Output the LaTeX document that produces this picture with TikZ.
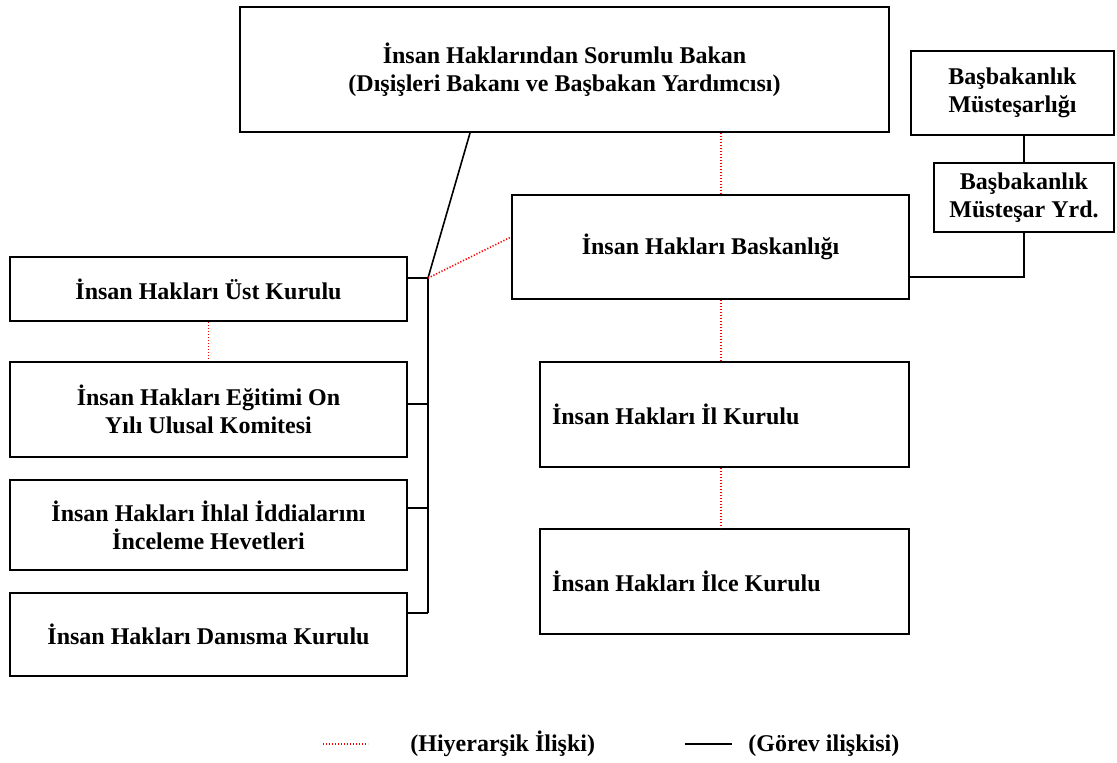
\documentclass[tikz,border=0pt]{standalone}
\usepackage{fontspec}
\setmainfont{Liberation Serif}
\newcommand{\kutuyazi}{\bfseries\fontsize{12}{14}\selectfont}
\begin{document}
\begin{tikzpicture}[x=0.5pt, y=-0.5pt,
	kutu/.style={draw, line width=1pt, inner sep=0pt, align=center, font=\kutuyazi},
	gorev/.style={line width=0.8pt},
	hiyerarsi/.style={red, line width=0.8pt, dash pattern=on 0.6pt off 0.9pt},
	aciklama/.style={anchor=base west, inner sep=0pt, font=\kutuyazi}]
	\useasboundingbox (0,0) rectangle (1117,762);
	% bakan ve basbakanlik
	\node[kutu, minimum width=324.5pt, minimum height=62.5pt] (bakan) at (564.5,69.5) {İnsan Haklarından Sorumlu Bakan\\(Dışişleri Bakanı ve Başbakan Yardımcısı)};
	\node[kutu, minimum width=101.5pt, minimum height=42pt] (mustesar) at (1012.5,93) {Başbakanlık\\Müsteşarlığı};
	\node[kutu, minimum width=90pt, minimum height=34.5pt] (yrd) at (1024,197.5) {Başbakanlık\\Müsteşar Yrd.};
	% baskanlik, il, ilce
	\node[kutu, minimum width=198.5pt, minimum height=52pt] (baskan) at (710.5,247) {İnsan Hakları Baskanlığı};
	\node[kutu, minimum width=184.5pt, minimum height=52.5pt, text width=172.5pt, align=flush left] (il) at (724.5,414.5) {İnsan Hakları İl Kurulu};
	\node[kutu, minimum width=184.5pt, minimum height=52.5pt, text width=172.5pt, align=flush left] (ilce) at (724.5,581.5) {İnsan Hakları İlce Kurulu};
	% kurullar
	\node[kutu, minimum width=198.5pt, minimum height=32pt] (ust) at (208.5,289) {İnsan Hakları Üst Kurulu};
	\node[kutu, minimum width=198.5pt, minimum height=47.5pt] (egitim) at (208.5,409.5) {İnsan Hakları Eğitimi On\\Yılı Ulusal Komitesi};
	\node[kutu, minimum width=198.5pt, minimum height=45pt] (ihlal) at (208.5,525) {İnsan Hakları İhlal İddialarını\\İnceleme Hevetleri};
	\node[kutu, minimum width=198.5pt, minimum height=41.5pt] (danisma) at (208.5,634.5) {İnsan Hakları Danısma Kurulu};
	% gorev iliskisi
	\coordinate (kol) at (470,0);
	\coordinate (k1) at (428,278);
	\coordinate (k2) at (428,404);
	\coordinate (k3) at (428,508);
	\coordinate (k4) at (428,613);
	\coordinate (dirsek) at (1024,277);
	\draw[gorev] (bakan.south -| kol) -- (k1);
	\draw[gorev] (k1) -- (k4);
	\draw[gorev] (ust.east |- k1) -- (k1);
	\draw[gorev] (egitim.east |- k2) -- (k2);
	\draw[gorev] (ihlal.east |- k3) -- (k3);
	\draw[gorev] (danisma.east |- k4) -- (k4);
	\draw[gorev] (mustesar.south -| dirsek) -- (yrd.north -| dirsek);
	\draw[gorev] (yrd.south -| dirsek) -- (dirsek) -- (baskan.east |- dirsek);
	% hiyerarsik iliski
	\coordinate (orta) at (721,0);
	\draw[hiyerarsi] (bakan.south -| orta) -- (baskan.north -| orta);
	\draw[hiyerarsi] (baskan.south -| orta) -- (il.north -| orta);
	\draw[hiyerarsi] (il.south -| orta) -- (ilce.north -| orta);
	\draw[hiyerarsi] (k1) -- ([yshift=5pt]baskan.west);
	\draw[hiyerarsi] (ust.south) -- (egitim.north);
	% aciklama
	\coordinate (h1) at (323,744);
	\coordinate (h2) at (368,744);
	\coordinate (g1) at (685,744);
	\coordinate (g2) at (732,744);
	\draw[hiyerarsi] (h1) -- (h2);
	\node[aciklama] (hyazi) at (410,751) {(Hiyerarşik İlişki)};
	\draw[gorev] (g1) -- (g2);
	\node[aciklama] (gyazi) at (748,751) {(Görev ilişkisi)};
\end{tikzpicture}
\end{document}
